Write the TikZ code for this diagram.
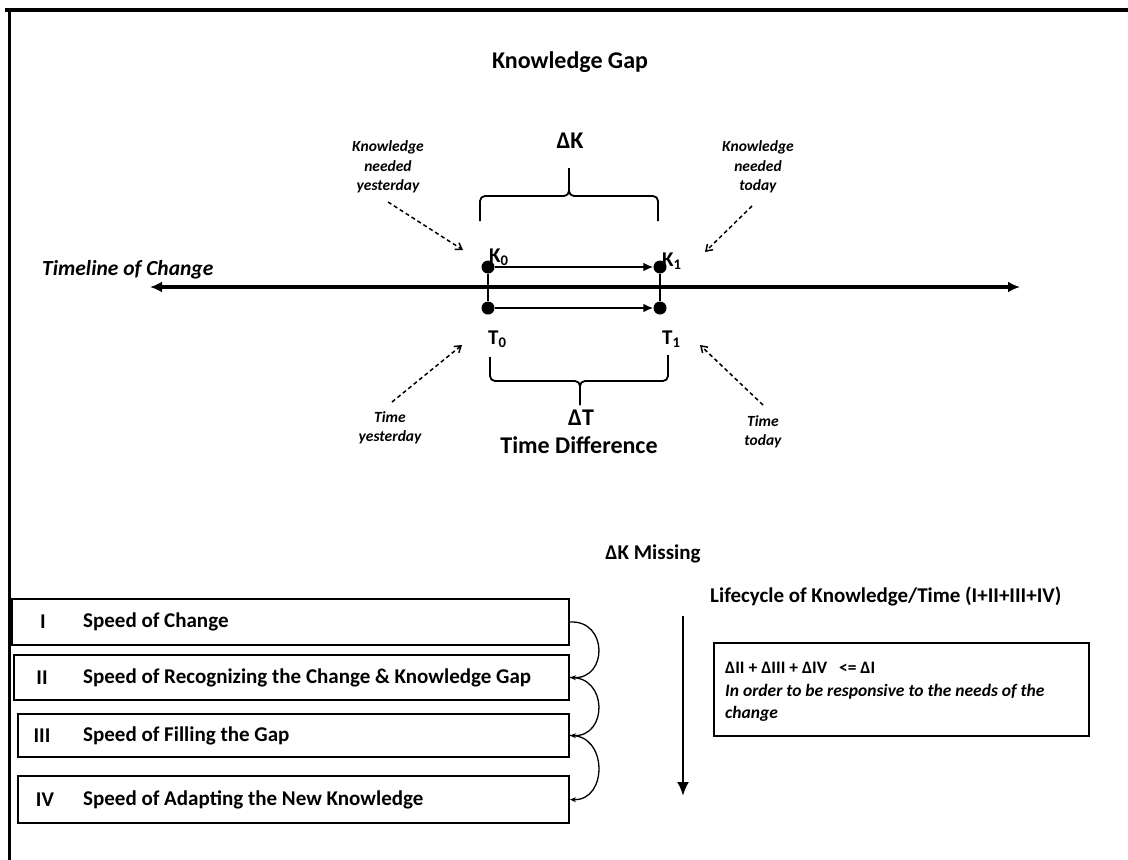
\documentclass[tikz,border=0pt]{standalone}
\usepackage{fontspec}
\setmainfont{Carlito}
\usetikzlibrary{arrows.meta,calc}
\tikzset{
  frameline/.style={line width=3.5pt},
  dotnode/.style={circle,fill=black,inner sep=0pt,minimum size=13pt},
  biglbl/.style={inner sep=0pt,font=\fontsize{24}{28}\selectfont\bfseries},
  midlbl/.style={inner sep=0pt,font=\fontsize{21}{25}\selectfont\bfseries},
  smalllbl/.style={inner sep=0pt,align=center,font=\fontsize{15.5}{19.5}\selectfont\bfseries\itshape},
  dasharrow/.style={line width=1.5pt,dash pattern=on 4pt off 3pt,-{Straight Barb[length=6pt,width=8pt]}},
  bracestyle/.style={line width=1.8pt,rounded corners=5pt},
  hline/.style={line width=2pt,-{Latex[length=10pt,width=9pt]}},
  stepbox/.style={draw,line width=2pt,minimum width=555pt,minimum height=45pt,inner sep=0pt},
  looparrow/.style={line width=1.3pt,-{Stealth[length=6pt,width=5pt]}},
  boxtxt/.style={inner sep=0pt,anchor=west,font=\fontsize{17.5}{21}\selectfont\bfseries},
}
\begin{document}
\begin{tikzpicture}[x=1pt,y=-1pt]
\useasboundingbox (0,0) rectangle (1128,860);
% frame
\draw[frameline] (5,10) -- (1128,10);
\draw[frameline] (9.5,8.5) -- (9.5,860);

% titles
\node[biglbl] (kgap) at (570,62) {Knowledge Gap};
\node[biglbl] (dk) at (570,141) {ΔK};

% upper brace
\draw[bracestyle] (480,221) -- (480,196) -- (569,196) -- (569,168);
\draw[bracestyle] (569,168) -- (569,196) -- (658,196) -- (658,221);

% timeline
\coordinate (tlL) at (150,287);
\coordinate (tlR) at (1020,287);
\draw[line width=3.5pt,{Latex[length=12pt,width=11pt]}-{Latex[length=12pt,width=11pt]}] (tlL) -- (tlR);
\node[midlbl,font=\fontsize{21.5}{25}\selectfont\bfseries\itshape,anchor=west] (tlc) at (42,270) {Timeline of Change};

% dots
\node[dotnode] (k0) at (488,267) {};
\node[dotnode] (k1) at (660,267) {};
\node[dotnode] (t0) at (488,308) {};
\node[dotnode] (t1) at (660,308) {};
\draw[line width=1.5pt] (k0) -- (t0);
\draw[line width=1.5pt] (k1) -- (t1);
\draw[hline] (k0) -- (k1);
\draw[hline] (t0) -- (t1);

\node[midlbl,anchor=south west] (k0l) at (489,266) {K\textsubscript{0}};
\node[midlbl,anchor=west] (k1l) at (662,261) {K\textsubscript{1}};
\node[midlbl,anchor=west] (t0l) at (488,339) {T\textsubscript{0}};
\node[midlbl,anchor=west] (t1l) at (662,339) {T\textsubscript{1}};

% lower brace
\draw[bracestyle] (490,357) -- (490,381) -- (580,381) -- (580,405);
\draw[bracestyle] (580,405) -- (580,381) -- (668,381) -- (668,355);
\node[biglbl] (dt) at (581,418) {ΔT};
\node[biglbl] (tdiff) at (579,445) {Time Difference};

% small labels
\node[smalllbl] (ky) at (388,167) {Knowledge\\needed\\yesterday};
\node[smalllbl] (kt) at (758,167) {Knowledge\\needed\\today};
\node[smalllbl] (ty) at (390,428) {Time\\yesterday};
\node[smalllbl] (tt) at (763,432) {Time\\today};
\coordinate (kya) at (463,250);
\coordinate (kta) at (705,252);
\coordinate (tya) at (462,345);
\coordinate (tta) at (700,345);
\draw[dasharrow] (388,202) -- (kya);
\draw[dasharrow] (752,206) -- (kta);
\draw[dasharrow] (392,402) -- (tya);
\draw[dasharrow] (763,405) -- (tta);

% lower section
\node[midlbl] (dkm) at (653,554) {ΔK Missing};
\node[midlbl,anchor=west] (life) at (710,596) {Lifecycle of Knowledge/Time (I+II+III+IV)};

\node[stepbox,minimum width=557pt,minimum height=46pt] (b1) at (290.5,622) {};
\node[stepbox,minimum width=555pt,minimum height=45pt] (b2) at (291.5,677.5) {};
\node[stepbox,minimum width=551pt,minimum height=43pt] (b3) at (293.5,735.5) {};
\node[stepbox,minimum width=551pt,minimum height=47pt] (b4) at (293.5,799.5) {};

\node[midlbl] (n1) at (43,622) {I};
\node[midlbl] (n2) at (42,677.5) {II};
\node[midlbl] (n3) at (42,735.5) {III};
\node[midlbl] (n4) at (45,799.5) {IV};
\node[midlbl,anchor=west] (s1) at (83,622) {Speed of Change};
\node[midlbl,anchor=west] (s2) at (83,677.5) {Speed of Recognizing the Change \& Knowledge Gap};
\node[midlbl,anchor=west] (s3) at (83,735.5) {Speed of Filling the Gap};
\node[midlbl,anchor=west] (s4) at (83,799.5) {Speed of  Adapting the New Knowledge};

\draw[looparrow] (b1.east) .. controls (608,620) and (608,679) .. (b2.east);
\draw[looparrow] (b2.east) .. controls (608,676) and (608,737) .. (b3.east);
\draw[looparrow] (b3.east) .. controls (608,734) and (608,801) .. (b4.east);

% vertical arrow
\coordinate (vaT) at (683,616);
\coordinate (vaB) at (683,796);
\draw[line width=2.5pt,-{Latex[length=14pt,width=12pt]}] (vaT) -- (vaB);

% right box
\node[draw,line width=2pt,minimum width=375pt,minimum height=93pt,inner sep=0pt] (rbox) at (901.5,689.5) {};
\node[boxtxt] (r1) at (725,668) {ΔII + ΔIII + ΔIV \ \ <= ΔI};
\node[boxtxt,font=\fontsize{17.5}{21}\selectfont\bfseries\itshape] (r2) at (725,692) {In order to be responsive to the needs of the};
\node[boxtxt,font=\fontsize{17.5}{21}\selectfont\bfseries\itshape] (r3) at (725,714) {change};
\end{tikzpicture}
\end{document}
